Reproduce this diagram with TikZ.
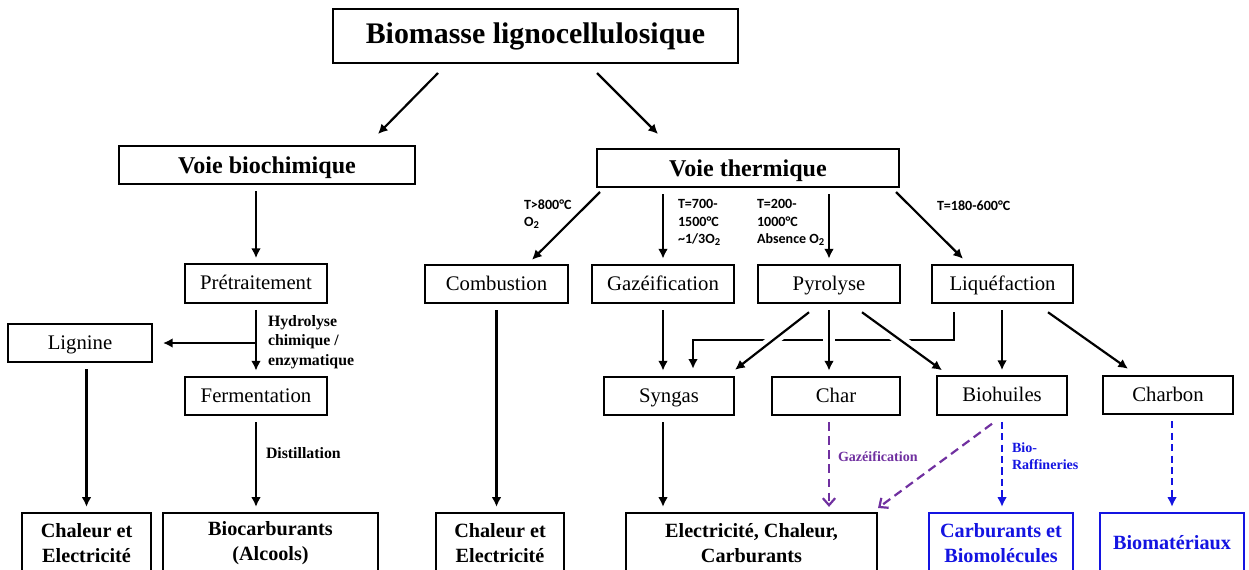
\documentclass[tikz,border=0pt]{standalone}
\usepackage{fontspec}
\setmainfont{Liberation Serif}
\newfontfamily\condfont{Carlito}
\usetikzlibrary{arrows.meta, calc}
\definecolor{gazpurple}{RGB}{112,48,160}
\definecolor{raffblue}{RGB}{20,20,225}

\begin{document}
\begin{tikzpicture}[x=0.2mm,y=-0.2mm]
\tikzset{every node/.style={inner sep=0mm, outer sep=0mm}}

\tikzstyle{source}=[rectangle,draw=black,line width=1.4pt,minimum width=81mm,minimum height=10.8mm,font=\bfseries\fontsize{17}{20}\selectfont]
\tikzstyle{voie}=[rectangle,draw=black,line width=1.4pt,minimum height=7.6mm,text height=11pt,text depth=1.8pt,font=\bfseries\fontsize{13.7}{16}\selectfont]
\tikzstyle{process}=[rectangle,draw=black,line width=1.3pt,minimum height=7.7mm,text height=8.9pt,text depth=1.7pt,font=\fontsize{11.8}{14}\selectfont]
\tikzstyle{product}=[rectangle,draw=black,line width=1.4pt,minimum height=12mm,align=center,font=\bfseries\fontsize{11.5}{14.6}\selectfont]
\tikzstyle{cond}=[align=left,anchor=west,font=\condfont\bfseries\fontsize{8}{10}\selectfont]
\tikzstyle{step label}=[align=left,anchor=west,font=\bfseries\fontsize{9}{11}\selectfont]
\tikzstyle{post}=[->, line width=1.25pt, >={Latex[length=5.5pt,width=5.5pt]}]
\tikzstyle{gapped}=[shorten <=4pt, shorten >=3.5pt]
\tikzstyle{crossing}=[preaction={draw=white,-,line width=6.5pt}]
\tikzstyle{purple route}=[post, gazpurple, dash pattern=on 5pt off 3pt, >={Straight Barb[length=4pt,width=7pt]}]
\tikzstyle{blue route}=[post, raffblue, dash pattern=on 4pt off 2.5pt]

\useasboundingbox (0,0) rectangle (1249,569);
\clip (0,0) rectangle (1249,569);

\node[source] (biomasse) at (535.5,36) {Biomasse lignocellulosique};

\node[voie, minimum width=59.2mm] (biochimique) at (267,165) {Voie biochimique};
\node[voie, minimum width=60.4mm] (thermique) at (748,168) {Voie thermique};

% voie biochimique
\node[process, minimum width=28.4mm] (pretraitement) at (256,283.5) {Prétraitement};
\node[process, minimum width=28.8mm] (lignine) at (80,343) {Lignine};
\node[process, minimum width=28.4mm] (fermentation) at (256,396) {Fermentation};

% voie thermique
\node[process, minimum width=28.6mm] (combustion) at (496.5,284) {Combustion};
\node[process, minimum width=28.4mm] (gazeification) at (663,284) {Gazéification};
\node[process, minimum width=28.4mm] (pyrolyse) at (829,284) {Pyrolyse};
\node[process, minimum width=28.2mm] (liquefaction) at (1002.5,284) {Liquéfaction};

\node[process, minimum width=26mm] (syngas) at (669,396) {Syngas};
\node[process, minimum width=25.6mm] (char) at (836,396) {Char};
\node[process, minimum width=26mm] (biohuiles) at (1002,395.5) {Biohuiles};
\node[process, minimum width=26mm] (charbon) at (1168,395) {Charbon};

% products
\node[product, minimum width=25.8mm] (chaleur bio) at (86.5,543) {Chaleur et\\Electricité};
\node[product, minimum width=43mm] (biocarburants) at (270.5,543) {Biocarburants\\(Alcools)};
\node[product, minimum width=25.6mm] (chaleur thermique) at (500,543) {Chaleur et\\Electricité};
\node[product, minimum width=50.2mm] (electricite) at (751.5,543) {Electricité, Chaleur,\\Carburants};
\node[product, draw=raffblue, text=raffblue, minimum width=28.8mm] (carburants) at (1001,543) {Carburants et\\Biomolécules};
\node[product, draw=raffblue, text=raffblue, minimum width=28.8mm] (biomateriaux) at (1172,543) {Biomatériaux};

% labels
\node[step label] (hydrolyse label) at (268,342) {Hydrolyse\\chimique /\\enzymatique};
\node[step label] (distillation label) at (266,453) {Distillation};
\node[cond] (combustion cond) at (524,214) {T>800°C\\O\textsubscript{2}};
\node[cond] (gazeification cond) at (678,222.5) {T=700-\\1500°C\\\textasciitilde1/3O\textsubscript{2}};
\node[cond] (pyrolyse cond) at (757,222.5) {T=200-\\1000°C\\Absence O\textsubscript{2}};
\node[cond] (liquefaction cond) at (937,206) {T=180-600°C};
\node[step label, text=gazpurple, font=\bfseries\fontsize{8}{10}\selectfont] (gaz label) at (838,457) {Gazéification};
\node[step label, text=raffblue, font=\bfseries\fontsize{8}{9.6}\selectfont] (raffineries label) at (1012,456.5) {Bio-\\Raffineries};

\draw[post] ($(biomasse.south)+(-97.5,10)$) -- ($(biochimique.north)+(111,-12)$);
\draw[post] ($(biomasse.south)+(61.5,10)$) -- ($(thermique.north)+(-90,-15)$);

\draw[post,gapped] (pretraitement.north |- biochimique.south) -- (pretraitement.north);
\draw[post,gapped] (pretraitement.south) -- (fermentation.north);
\draw[post] (pretraitement.south |- lignine.east) -- ($(lignine.east)+(11,0)$);
\draw[post,gapped] (fermentation.south) -- (fermentation.south |- biocarburants.north);
\draw[post,gapped] (chaleur bio.north |- lignine.south) -- (chaleur bio.north);

\draw[post] ($(thermique.south west)+(3,5)$) -- ($(combustion.north)+(35.5,-5)$);
\draw[post,gapped] (gazeification.north |- thermique.south) -- (gazeification.north);
\draw[post,gapped] (pyrolyse.north |- thermique.south) -- (pyrolyse.north);
\draw[post] ($(thermique.south east)+(-3,5)$) -- ($(liquefaction.north)+(-39.5,-6)$);

\draw[post,gapped] (combustion.south) -- (combustion.south |- chaleur thermique.north);
\draw[post,gapped] (gazeification.south) -- (gazeification.south |- syngas.north);
\draw[post] ($(liquefaction.south)+(-48.5,9)$) -- ++(0,28) -| ($(syngas.north)+(24,-8)$);
\draw[post,crossing] ($(pyrolyse.south)+(-20,9)$) -- ($(syngas.north east)+(1,-7)$);
\draw[post,gapped,crossing] (pyrolyse.south) -- (pyrolyse.south |- char.north);
\draw[post,crossing] ($(pyrolyse.south)+(33,9)$) -- ($(biohuiles.north west)+(5,-6)$);
\draw[post,gapped] (liquefaction.south -| biohuiles.north) -- (biohuiles.north);
\draw[post] ($(liquefaction.south)+(45.5,9)$) -- ($(charbon.north)+(-40,-7)$);

\draw[post,gapped] (syngas.south -| gazeification.south) -- (gazeification.south |- electricite.north);
\draw[purple route,gapped] (char.south -| pyrolyse.south) -- (pyrolyse.south |- electricite.north);
\draw[purple route] ($(biohuiles.south)+(-10,9)$) -- ($(electricite.north east)+(1,-5)$);
\draw[blue route,gapped] (biohuiles.south) -- (biohuiles.south |- carburants.north);
\draw[blue route,gapped] (biomateriaux.north |- charbon.south) -- (biomateriaux.north);

\end{tikzpicture}
\end{document}
